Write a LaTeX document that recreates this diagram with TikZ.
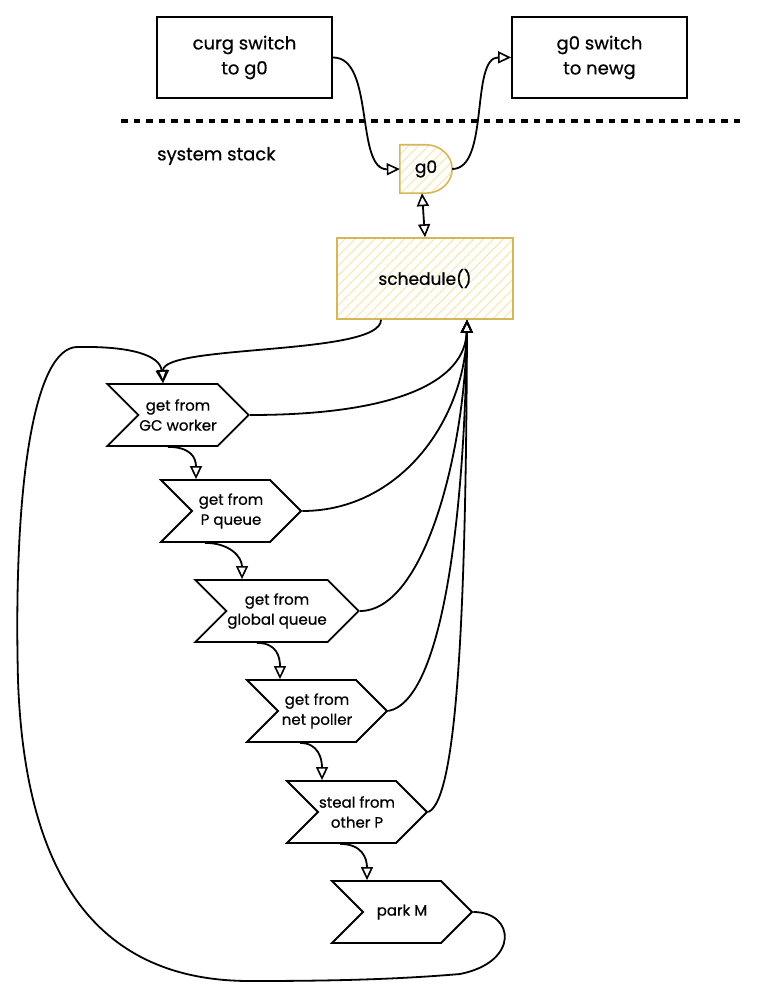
\documentclass[tikz,border=0pt]{standalone}
\usepackage{fontspec}
\setmainfont{Poppins}[FakeBold=0.6]
\usetikzlibrary{arrows.meta,shapes.symbols,patterns.meta,backgrounds,calc}
\definecolor{gold}{HTML}{D6B656}
\definecolor{hatch}{HTML}{F7EBBE}
\begin{document}
\begin{tikzpicture}[x=1pt,y=-1pt,
  box/.style={draw, line width=1.8pt, minimum width=175pt, minimum height=81pt, align=center, font=\fontsize{18}{25}\selectfont},
  stepbox/.style={draw, signal, signal to=east, signal from=west, signal pointer angle=90, minimum width=140pt, minimum height=62pt, inner sep=1pt, align=center, font=\fontsize{15}{20}\selectfont, line width=1.8pt},
  hatched/.style={draw=gold, line width=1.6pt, preaction={fill=white}, pattern={Lines[angle=45,distance=7pt,line width=1.3pt]}, pattern color=hatch},
  tip/.tip={Triangle[open,length=13pt,width=12pt,line width=1.6pt]},
  conn/.style={line width=1.8pt, -tip},
  lbl/.style={font=\fontsize{17}{21}\selectfont}
]
\useasboundingbox (0,0) rectangle (757,1000);
% top boxes
\node[box] (curg) at (244.5,57.5) {curg switch\\to g0};
\node[box] (newg) at (599.5,57.5) {g0 switch\\to newg};
\draw[line width=3.5pt, dash pattern=on 6.5pt off 6pt] (121,121) -- (740,121);
\node[lbl, font=\fontsize{18}{21}\selectfont, anchor=west, inner sep=0pt] (sys) at (157,156) {system stack};
% g0
\node[minimum width=52pt, minimum height=48pt, inner sep=0pt, lbl] (g0) at (426,169) {g0};
\begin{scope}[on background layer]
\path[hatched] (g0.north west) -- (g0.north) .. controls +(14.4,0) and +(0,-13.3) .. (g0.east) .. controls +(0,13.3) and +(14.4,0) .. (g0.south) -- (g0.south west) -- cycle;
\end{scope}
% schedule
\node[hatched, minimum width=176pt, minimum height=81pt, lbl] (sched) at (425,278.5) {schedule()};
% steps
\node[stepbox] (gc) at (178,415) {get from\\GC worker};
\node[stepbox] (pq) at (231,511) {get from\\P queue};
\node[stepbox] (gq) at (277,611) {get from\\global queue};
\node[stepbox] (np) at (317,711) {get from\\net poller};
\node[stepbox] (st) at (357,812) {steal from\\other P};
\node[stepbox] (pm) at (402,912) {park M};
\coordinate (sin) at ([xshift=42pt]sched.south);
\coordinate (sout) at ([xshift=-44pt]sched.south);
\coordinate (gcin) at ([xshift=-15pt]gc.north);
% connectors
\draw[conn] (curg.east) .. controls (375,57) and (355,170) .. (g0.west);
\draw[conn] (g0.east) .. controls (490,169) and (470,57) .. (newg.west);
\draw[line width=1.8pt, tip-tip] ([xshift=-4pt]g0.south) -- (sched.north);
\draw[conn] (sout) .. controls +(0,36) and +(0,-39) .. (gcin);
\draw[conn] (gc.east) .. controls (400,415) and (465,380) .. (sin);
\draw[conn] (pq.east) .. controls (400,511) and (465,420) .. (sin);
\draw[conn] (gq.east) .. controls (425,611) and (465,450) .. (sin);
\draw[conn] (np.east) .. controls (445,700) and (465,500) .. (sin);
\draw[conn] (st.east) .. controls (458,800) and (466,600) .. (sin);
\draw[conn] ([xshift=-10pt]gc.south) .. controls +(22,0) and +(0,-22) .. ([xshift=-35pt]pq.north);
\draw[conn] ([xshift=-26pt]pq.south) .. controls +(25,0) and +(0,-22) .. ([xshift=-35pt]gq.north);
\draw[conn] ([xshift=-20pt]gq.south) .. controls +(20,0) and +(0,-22) .. ([xshift=-37pt]np.north);
\draw[conn] ([xshift=-17pt]np.south) .. controls +(18,0) and +(0,-22) .. ([xshift=-35pt]st.north);
\draw[conn] ([xshift=-17pt]st.south) .. controls +(22,0) and +(0,-22) .. ([xshift=-35pt]pm.north);
\draw[conn] (pm.east) .. controls (515,912) and (520,962) .. (460,974) .. controls (390,980) and (320,981) .. (250,981) .. controls (100,981) and (25,880) .. (18,680) .. controls (13,480) and (35,348) .. (77,347) .. controls (130,346) and (160,355) .. (gcin);
\end{tikzpicture}
\end{document}
